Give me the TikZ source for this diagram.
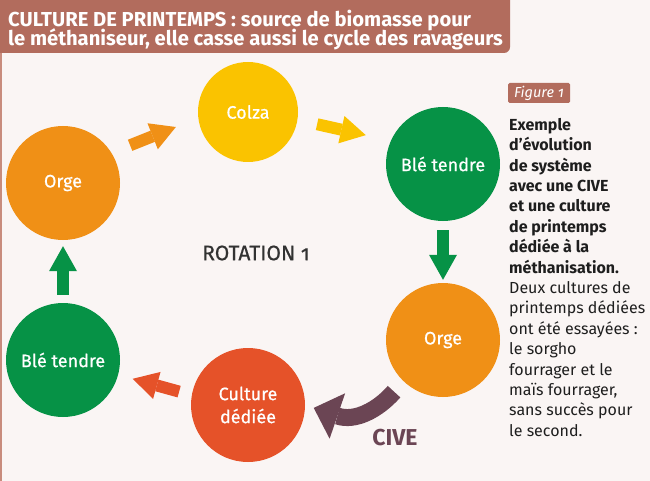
\documentclass[tikz,border=0pt]{standalone}
\usepackage{fontspec}
\setmainfont{Fira Sans}[Numbers=OldStyle]
\newfontfamily\medfont{Fira Sans}[FakeBold=0.6, Numbers=OldStyle]
\usetikzlibrary{arrows.meta}
\definecolor{bgc}{RGB}{250,245,244}
\definecolor{headc}{RGB}{178,108,93}
\definecolor{borderc}{RGB}{200,140,125}
\definecolor{greenc}{RGB}{6,146,70}
\definecolor{orangec}{RGB}{240,144,22}
\definecolor{yellowc}{RGB}{250,195,0}
\definecolor{redc}{RGB}{229,82,41}
\definecolor{purplec}{RGB}{107,69,84}
\definecolor{txtc}{RGB}{30,30,30}
\definecolor{rotc}{RGB}{50,50,50}
\begin{document}
\begin{tikzpicture}[x=1pt,y=-1pt,
  crop/.style={circle, minimum size=114pt, inner sep=0pt, text=white,
    font=\medfont\fontsize{18}{23}\selectfont, align=center},
  flow/.style={line width=12pt, -{Triangle[length=25pt,width=28pt,line width=0pt]}},
  civearrow/.style={line width=17pt, purplec, -{Triangle[length=25pt,width=48pt,line width=0pt]}},
  headtext/.style={anchor=base west, inner sep=0pt, text=white,
    font=\bfseries\fontsize{20.2}{20}\selectfont},
]
\useasboundingbox (0,0) rectangle (650,481);
\fill[bgc] (0,0) rectangle (650,481);
\draw[borderc, line width=1.5pt] (1,50) -- (1,481);
\fill[headc, rounded corners=6pt] (-10,-10) rectangle (510,53);
\node[headtext] (h1) at (8,27) {CULTURE DE PRINTEMPS : source de biomasse pour};
\node[headtext] (h2) at (8,46) {le méthaniseur, elle casse aussi le cycle des ravageurs};

% circles
\node[crop, fill=orangec] (orgeL) at (63,183) {Orge};
\node[crop, fill=yellowc, minimum size=100pt] (colza) at (248,112) {Colza};
\node[crop, fill=greenc] (bleR) at (443,164) {Blé tendre};
\node[crop, fill=orangec] (orgeR) at (443,340) {Orge};
\node[crop, fill=redc] (culture) at (248,405) {Culture\\dédiée};
\node[crop, fill=greenc] (bleL) at (63,360) {Blé tendre};

% arrows
\draw[flow, orangec, shorten <=20pt, shorten >=24pt] (orgeL.32.5) -- (colza.187);
\draw[flow, yellowc, shorten <=20pt, shorten >=25.6pt] (colza.351) -- (bleR.156);
\draw[flow, greenc, shorten <=9pt, shorten >=3pt] (bleR.south) -- (orgeR.north);
\draw[flow, redc, shorten <=13pt, shorten >=15pt] (culture.170) -- (bleL.-15.6);
\draw[flow, greenc, shorten <=8pt, shorten >=6pt] (bleL.north) -- (orgeL.south);
\draw[civearrow, shorten <=14pt, shorten >=9pt] (orgeR.226) .. controls (378,410) and (355,422) .. (culture.0);

\node[font=\medfont\fontsize{21}{21}\selectfont, text=rotc] (rot) at (256,253) {ROTATION 1};
\node[font=\bfseries\fontsize{23}{23}\selectfont, text=purplec] (cive) at (395,438) {CIVE};

% figure tag and caption
\node[fill=headc, text=white, font=\itshape\fontsize{14.5}{14.5}\selectfont,
  rounded corners=1.5pt, minimum width=62pt, minimum height=20pt, inner sep=0pt] (fig) at (539,93) {Figure 1};
\node[anchor=north west, inner sep=0pt, align=left, text=txtc,
  font=\fontsize{16}{20.4}\selectfont] (desc) at (509,118) {%
\textbf{Exemple}\\
\textbf{d’évolution}\\
\textbf{de système}\\
\textbf{avec une CIVE}\\
\textbf{et une culture}\\
\textbf{de printemps}\\
\textbf{dédiée à la}\\
\textbf{méthanisation.}\\
Deux cultures de\\
printemps dédiées\\
ont été essayées :\\
le sorgho\\
fourrager et le\\
maïs fourrager,\\
sans succès pour\\
le second.};
\end{tikzpicture}
\end{document}
